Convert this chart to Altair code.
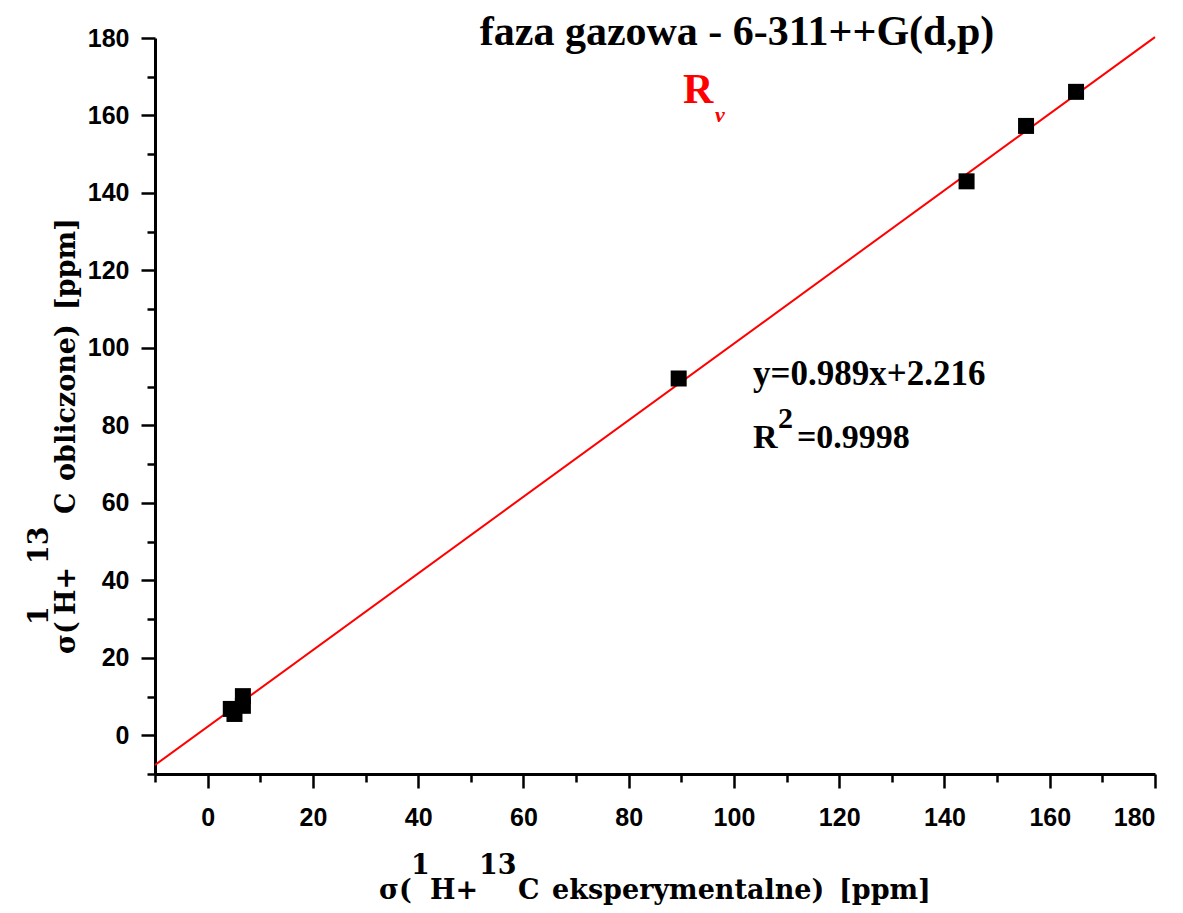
import altair as alt
import pandas as pd

# data
x_exp = [4.4, 5.1, 6.7, 6.7, 89.5, 144.2, 155.5, 165.0]
y_calc = [6.8, 5.5, 7.6, 10.1, 92.1, 143.0, 157.3, 166.1]
fit_x = [-10, 180]
slope = 0.989
intercept = 2.216
major_ticks = list(range(0, 181, 20))
minor_ticks = list(range(-10, 180, 20))

title_text = "faza gazowa - 6-311++G(d,p)"
eq_text = "y=0.989x+2.216"
r2_text = "=0.9998"

pts = pd.DataFrame({"x": x_exp, "y": y_calc})
fit = pd.DataFrame({"x": fit_x, "y": [slope * v + intercept for v in fit_x]})

scale = alt.Scale(domain=[-10, 180], nice=False, zero=False)

common = dict(
    title=None,
    grid=False,
    labelFont="Liberation Sans",
    labelFontWeight="bold",
    labelFontSize=25,
    labelColor="black",
    domainColor="black",
    domainWidth=3,
    tickColor="black",
    tickWidth=2.5,
    labelOverlap=False,
)


def major_axis(orient, pad):
    return alt.Axis(orient=orient, values=major_ticks, tickSize=14, labelPadding=pad, **common)


def minor_axis(orient):
    return alt.Axis(orient=orient, values=minor_ticks, tickSize=8, labels=False, domain=False, **common)


line = alt.Chart(fit).mark_line(color="#ff0000", strokeWidth=2, clip=False).encode(
    x=alt.X("x:Q", scale=scale, axis=major_axis("bottom", 17)),
    y=alt.Y("y:Q", scale=scale, axis=major_axis("left", 12)),
)
points = alt.Chart(pts).mark_square(size=256, color="black", opacity=1).encode(
    x=alt.X("x:Q", scale=scale, axis=minor_axis("bottom")),
    y=alt.Y("y:Q", scale=scale, axis=minor_axis("left")),
)


def txt(t, x, y, size, color="black", angle=0, align="left", style="normal", font="Liberation Serif"):
    return alt.Chart(pd.DataFrame({"t": [t]})).mark_text(
        font=font,
        fontWeight="bold",
        fontStyle=style,
        fontSize=size,
        color=color,
        align=align,
        baseline="alphabetic",
        angle=angle,
    ).encode(x=alt.value(x), y=alt.value(y), text="t:N")


AF = "DejaVu Serif"
AS = 27
texts = [
    txt(title_text, 582, 7, 42, align="center"),
    txt("R", 528, 65, 42, color="#ff0000"),
    txt("v", 560, 84, 22, color="#ff0000", style="italic"),
    txt(eq_text, 598, 347, 35),
    txt("R", 598, 410, 34),
    txt("2", 623, 390, 30),
    txt(r2_text, 642, 410, 34),
    # x axis title
    txt("\u03c3(", 224, 861, AS, font=AF),
    txt("1", 256, 836, AS, font=AF),
    txt("H+", 275, 861, AS, font=AF),
    txt("13", 324, 836, AS, font=AF),
    txt("C", 363, 861, AS, font=AF),
    txt("eksperymentalne)", 397, 861, AS, font=AF),
    txt("[ppm]", 684, 861, AS, font=AF),
    # y axis title
    txt("\u03c3(", -80, 616, AS, angle=270, font=AF),
    txt("1", -107, 587, AS, angle=270, font=AF),
    txt("H+", -80, 577, AS, angle=270, font=AF),
    txt("13", -107, 526, AS, angle=270, font=AF),
    txt("C", -80, 476, AS, angle=270, font=AF),
    txt("obliczone)", -80, 443, AS, angle=270, font=AF),
    txt("[ppm]", -80, 272, AS, angle=270, font=AF),
]

chart = alt.layer(line, points, *texts).resolve_axis(
    x="independent", y="independent"
).properties(
    width=1000,
    height=736,
    padding={"left": 147, "top": 30, "right": 20, "bottom": 138},
    autosize=alt.AutoSizeParams(type="none"),
    background="white",
).configure_view(stroke=None)

chart.save("out.html", embed_options={"renderer": "svg", "actions": False})
